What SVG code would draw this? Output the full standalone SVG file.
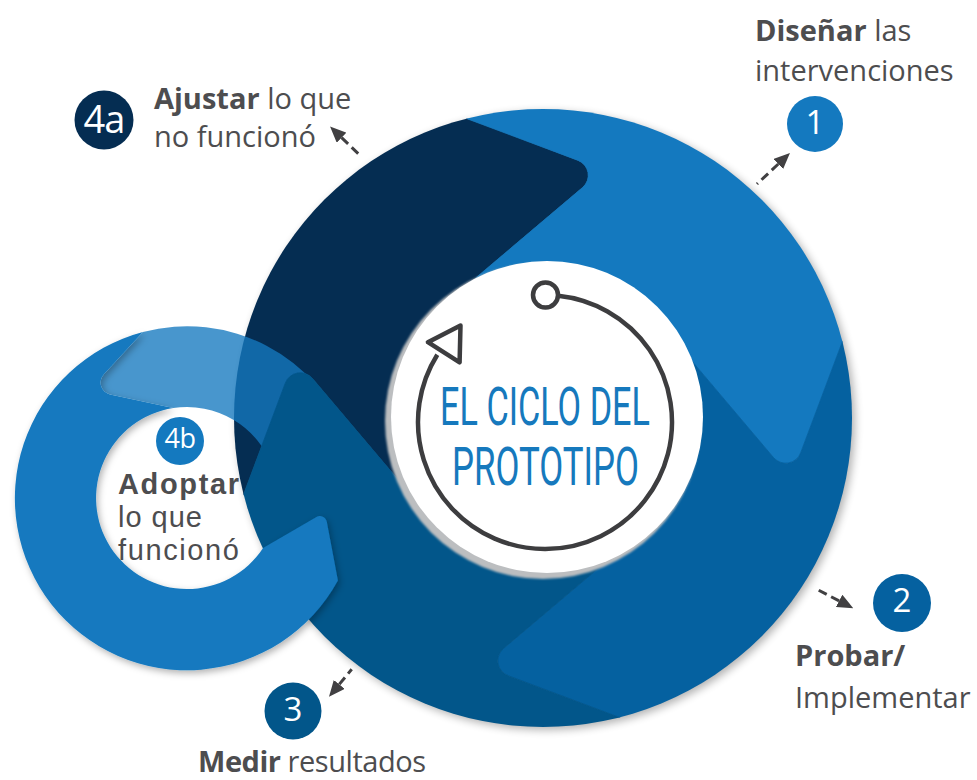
<svg xmlns="http://www.w3.org/2000/svg" width="977" height="780" viewBox="0 0 977 780">
<style>
.lbl{font-family:"Open Sans","Noto Sans","Liberation Sans",sans-serif;font-size:29px;fill:#4d4d4f}
.lbl2{font-family:"Liberation Sans",Arial,sans-serif;font-size:29px;fill:#4d4d4f}
.b{font-weight:700}
.num{font-family:"Open Sans","Noto Sans","Liberation Sans",sans-serif;fill:#fff;text-anchor:middle}
.dash{stroke:#414042;stroke-width:3;stroke-dasharray:9 5;fill:none}
.title{font-family:Roboto,"Open Sans","Liberation Sans",sans-serif;font-size:53px;fill:#1679bd}
.icon{fill:#fff;stroke:#3d3d3f;stroke-width:4.5;stroke-linejoin:round}
</style>
<defs>
<clipPath id="disc"><circle cx="543" cy="418" r="309"/></clipPath>
<filter id="sh" x="-20%" y="-20%" width="140%" height="140%"><feDropShadow dx="2" dy="3" stdDeviation="3.5" flood-color="#000" flood-opacity="0.3"/></filter>
<filter id="blur" x="-10%" y="-10%" width="120%" height="120%"><feGaussianBlur stdDeviation="4"/></filter>
<filter id="blur2" x="-10%" y="-10%" width="120%" height="120%"><feGaussianBlur stdDeviation="0.8"/></filter>
<path id="piece" d="M0 0L-140.1 67.3L-230.7 -39.8A16 16 0 0 0 -257.6 -35.1L-308.8 101.4A325 325 0 0 1 -101.4 -308.8L35.1 -257.6A16 16 0 0 1 39.8 -230.7L-67.3 -140.1Z"/>
<marker id="ah" viewBox="0 0 16 14" refX="0" refY="7" markerWidth="16" markerHeight="14" markerUnits="userSpaceOnUse" orient="auto-start-reverse"><path d="M0 0L16 7L0 14Z" fill="#414042"/></marker>
</defs>

<g id="cycle">
<circle cx="546" cy="421" r="309" fill="#000" opacity="0.3" filter="url(#blur)"/>
<g clip-path="url(#disc)">
<g transform="translate(543 418)">
<use href="#piece" fill="#052d52" stroke="#052d52" stroke-width="0.8"/>
<use href="#piece" transform="rotate(90)" fill="#1479bf" stroke="#1479bf" stroke-width="0.8"/>
<use href="#piece" transform="rotate(180)" fill="#0561a0" stroke="#0561a0" stroke-width="0.8"/>
</g>
</g>
<path d="M103.7 374.6L142.9 332A172 172 0 0 1 348.6 439.2L272.5 466.9A91 91 0 0 0 173.2 408.1L110 394.4A12 12 0 0 1 103.7 374.6Z" fill="#1479bf" opacity="0.78"/>
<g clip-path="url(#disc)">
<g transform="translate(543 418)">
<use href="#piece" transform="rotate(270)" fill="#02568a" stroke="#02568a" stroke-width="0.8"/>
</g>
</g>
<path d="M337.9 580.6L326.8 521.7A7 7 0 0 0 316.4 517L263.1 548A91 91 0 1 1 173.2 408.1L110 394.4A12 12 0 0 1 103.7 374.6L142.9 332A172 172 0 1 0 337.9 580.6Z" fill="#1479bf" filter="url(#sh)"/>
</g>

<g id="center">
<circle cx="543" cy="421" r="158" fill="#bcbec0" filter="url(#blur2)"/>
<circle cx="547" cy="417" r="156" fill="#fff"/>
<path d="M558.3 295.7A127 127 0 1 1 437.3 354.7" fill="none" stroke="#3d3d3f" stroke-width="4.5"/>
<polygon class="icon" points="460.5,325.4 427.9,342.2 459.6,362.4"/>
<circle class="icon" cx="545.5" cy="295" r="12.5"/>
<text class="title" x="440" y="425" textLength="210" lengthAdjust="spacingAndGlyphs">EL CICLO DEL</text>
<text class="title" x="452" y="485" textLength="187" lengthAdjust="spacingAndGlyphs">PROTOTIPO</text>
</g>

<g id="connectors">
<path class="dash" d="M778.3 164L757 184" marker-start="url(#ah)"/>
<path class="dash" d="M839.1 600.9L815 588.3" marker-start="url(#ah)"/>
<path class="dash" d="M339.2 684.4L351.7 669.3" marker-start="url(#ah)"/>
<path class="dash" d="M341.6 137.7L361.7 157" marker-start="url(#ah)"/>
</g>

<g id="step1">
<circle cx="815" cy="124" r="28" fill="#1479bf"/>
<text class="num" x="815" y="133.5" font-size="33">1</text>
<text class="lbl" x="755" y="41"><tspan class="b">Diseñar</tspan> las</text>
<text class="lbl" x="755" y="81">intervenciones</text>
</g>

<g id="step2">
<circle cx="902" cy="603" r="29" fill="#0561a0"/>
<text class="num" x="902" y="612" font-size="33">2</text>
<text class="lbl" x="795" y="666"><tspan class="b">Probar/</tspan></text>
<text class="lbl" x="795" y="708">Implementar</text>
</g>

<g id="step3">
<circle cx="293" cy="711" r="28.5" fill="#02568a"/>
<text class="num" x="293" y="720.5" font-size="33">3</text>
<text class="lbl" x="198" y="771.5" font-size="28" textLength="228"><tspan class="b">Medir</tspan> resultados</text>
</g>

<g id="step4a">
<circle cx="104" cy="120" r="29.5" fill="#052d52"/>
<text class="num" x="104" y="132.7" font-size="38" letter-spacing="-1">4a</text>
<text class="lbl" x="154" y="109"><tspan class="b">Ajustar</tspan> lo que</text>
<text class="lbl" x="154" y="147">no funcionó</text>
</g>

<g id="step4b">
<circle cx="180" cy="441" r="24" fill="#1479bf"/>
<text class="num" x="180" y="448.3" font-size="27" letter-spacing="-0.5">4b</text>
<text class="lbl2 b" x="118" y="494" textLength="121">Adoptar</text>
<text class="lbl2" x="118" y="527" textLength="84">lo que</text>
<text class="lbl2" x="118" y="560" textLength="121">funcionó</text>
</g>
</svg>
